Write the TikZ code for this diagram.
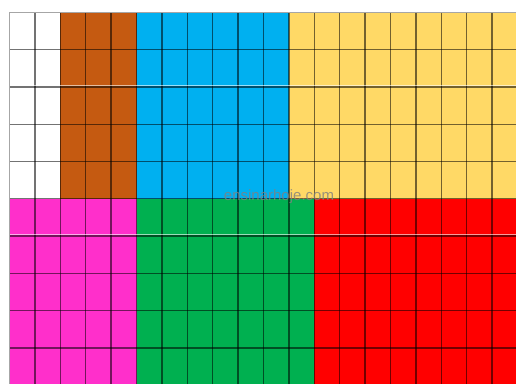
\documentclass[tikz,border=0pt]{standalone}
\usepackage{fontspec}
\setmainfont{Liberation Sans}
\definecolor{cwhite}{HTML}{FFFFFF}
\definecolor{cbrown}{HTML}{C55A11}
\definecolor{cblue}{HTML}{00B0F0}
\definecolor{cyellow}{HTML}{FFD966}
\definecolor{cmagenta}{HTML}{FF2FCB}
\definecolor{cgreen}{HTML}{00B050}
\definecolor{cred}{HTML}{FF0000}
\tikzset{
  gridline/.style={draw=black, draw opacity=0.55, line width=1.3pt},
  glare/.style={draw=white, draw opacity=0.6, line width=1pt}
}
\begin{document}
\begin{tikzpicture}[x=1pt,y=-1pt]
\useasboundingbox (0,0) rectangle (516,383);
\fill[white] (0,0) rectangle (516,383);
\def\cw{25.4}
\def\rh{37.3}
\def\xo{9.5}
\def\yo{12.3}
% top half
\fill[cwhite]   (\xo,\yo) rectangle ({\xo+2*\cw},{\yo+5*\rh});
\fill[cbrown]   ({\xo+2*\cw},\yo) rectangle ({\xo+5*\cw},{\yo+5*\rh});
\fill[cblue]    ({\xo+5*\cw},\yo) rectangle ({\xo+11*\cw},{\yo+5*\rh});
\fill[cyellow]  ({\xo+11*\cw},\yo) rectangle (530,{\yo+5*\rh});
% bottom half
\fill[cmagenta] (\xo,{\yo+5*\rh}) rectangle ({\xo+5*\cw},400);
\fill[cgreen]   ({\xo+5*\cw},{\yo+5*\rh}) rectangle ({\xo+12*\cw},400);
\fill[cred]     ({\xo+12*\cw},{\yo+5*\rh}) rectangle (530,400);
% grid lines
\foreach \i in {0,...,20} {
  \draw[gridline] ({\xo+\i*\cw},\yo) -- ({\xo+\i*\cw},400);
}
\foreach \j in {0,...,10} {
  \draw[gridline] (\xo,{\yo+\j*\rh}) -- (530,{\yo+\j*\rh});
}
\draw[draw=gray!70, line width=1.3pt] (\xo,\yo) -- (530,\yo);
\draw[draw=gray!70, line width=1.3pt] (\xo,\yo) -- (\xo,400);
% glare lines
\draw[glare] (\xo,{\yo+2*\rh-1.3}) -- (530,{\yo+2*\rh-1.3});
\draw[glare] (\xo,{\yo+6*\rh-1.3}) -- (530,{\yo+6*\rh-1.3});
% watermark
\node[text=gray, text opacity=0.8, font=\fontsize{15}{15}\selectfont, inner sep=0pt] (wm) at (279,197) {ensinarhoje.com};
\end{tikzpicture}
\end{document}
